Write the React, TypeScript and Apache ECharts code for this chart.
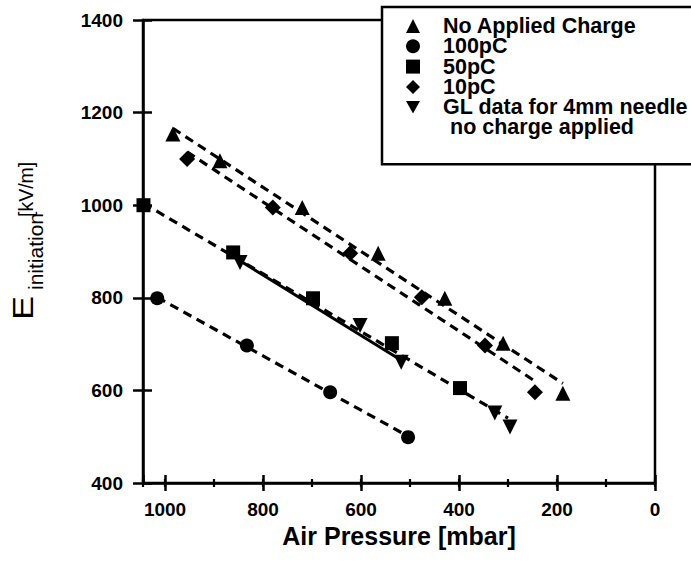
import React, { useEffect, useRef } from "react";
import * as echarts from "echarts";

// ---- data ----
const xTickValues = [0, 200, 400, 600, 800, 1000];
const yTickValues = [400, 600, 800, 1000, 1200, 1400];

const pressureNoCharge = [984, 888, 720, 565, 429, 310, 188];
const fieldNoCharge = [1154, 1096, 995, 896, 799, 702, 594];

const pressure100 = [1016, 833, 663, 504];
const field100 = [799, 697, 596, 499];

const pressure50 = [1044, 861, 698, 537, 398];
const field50 = [1000, 898, 799, 702, 605];

const pressure10 = [955, 780, 622, 476, 347, 245];
const field10 = [1100, 995, 896, 801, 697, 596];

const pressureGL = [847, 602, 518, 327, 296];
const fieldGL = [876, 740, 661, 551, 521];

// fitted trend lines (end points)
const fitNoChargeX = [984, 188];
const fitNoChargeY = [1166, 615];
const fit100X = [1016, 504];
const fit100Y = [801, 501];
const fit50X = [1044, 300];
const fit50Y = [1004, 540];
const fit10X = [955, 245];
const fit10Y = [1115, 620];
const fitGLX = [847, 518];
const fitGLY = [880, 665];

const seriesNames = [
  "No Applied Charge",
  "100pC",
  "50pC",
  "10pC",
  "GL data for 4mm needle",
];

const zip = (xs: number[], ys: number[]) => xs.map((x, i) => [x, ys[i]]);

const FONT = "'Liberation Sans', Arial, Helvetica, sans-serif";
const DOWN_TRIANGLE = "path://M0,0L10,0L5,9Z";

export default function App() {
  const ref = useRef<HTMLDivElement>(null);

  useEffect(() => {
    if (!ref.current) return;
    const chart = echarts.init(ref.current, undefined, { renderer: "svg" });

    const gridRect = { left: 143, top: 20, width: 512, height: 463 };

    const baseX = {
      type: "value" as const,
      min: 0,
      max: 1045,
      inverse: true,
      position: "bottom" as const,
      splitLine: { show: false },
    };
    const baseY = {
      type: "value" as const,
      min: 400,
      max: 1400,
      interval: 200,
      position: "left" as const,
      splitLine: { show: false },
    };
    const tickStyle = { color: "#000", width: 2.5 };
    const minorTickStyle = { color: "#000", width: 2.2 };

    const scatterStyle = { color: "#000", opacity: 1 };
    const dashed = { color: "#000", width: 3.2, type: [9, 6] as number[] };

    const fitLine = (xs: number[], ys: number[], solid = false) => ({
      type: "line" as const,
      data: zip(xs, ys),
      symbol: "none",
      showSymbol: false,
      silent: true,
      z: 1,
      lineStyle: solid ? { color: "#000", width: 3, type: "solid" as const } : dashed,
    });

    const option: any = {
      animation: false,
      backgroundColor: "#fff",
      grid: [
        {
          ...gridRect,
          show: true,
          borderColor: "#000",
          borderWidth: 2.5,
          backgroundColor: "transparent",
        },
        { ...gridRect, show: false },
        { ...gridRect, show: false },
        { ...gridRect, show: false },
      ],
      xAxis: [
        {
          ...baseX,
          gridIndex: 0,
          interval: 200,
          axisLine: { show: true, onZero: false, lineStyle: { color: "#000", width: 2.5 } },
          axisTick: { show: true, inside: false, length: 8, lineStyle: tickStyle },
          axisLabel: {
            show: true,
            margin: 17,
            color: "#000",
            fontSize: 19,
            fontWeight: "bold",
            fontFamily: FONT,
            showMaxLabel: false,
            formatter: (v: number) => (xTickValues.includes(v) ? String(v) : ""),
          },
          name: "Air Pressure [mbar]",
          nameLocation: "middle",
          nameGap: 40,
          nameTextStyle: { color: "#000", fontSize: 25, fontWeight: "bold", fontFamily: FONT },
        },
        {
          ...baseX,
          gridIndex: 1,
          interval: 200,
          axisLine: { show: false, onZero: false },
          axisTick: { show: true, inside: true, length: 8, lineStyle: tickStyle },
          axisLabel: { show: false },
        },
        {
          ...baseX,
          gridIndex: 2,
          interval: 100,
          axisLine: { show: false, onZero: false },
          axisTick: { show: true, inside: false, length: 4, lineStyle: minorTickStyle },
          axisLabel: { show: false },
        },
        {
          ...baseX,
          gridIndex: 3,
          interval: 100,
          axisLine: { show: false, onZero: false },
          axisTick: { show: true, inside: true, length: 4, lineStyle: minorTickStyle },
          axisLabel: { show: false },
        },
      ],
      yAxis: [
        {
          ...baseY,
          gridIndex: 0,
          axisLine: { show: true, onZero: false, lineStyle: { color: "#000", width: 2.5 } },
          axisTick: { show: true, inside: false, length: 10, lineStyle: tickStyle },
          axisLabel: {
            show: true,
            margin: 20,
            color: "#000",
            fontSize: 19,
            fontWeight: "bold",
            fontFamily: FONT,
            formatter: (v: number) => (yTickValues.includes(v) ? String(v) : ""),
          },
        },
        {
          ...baseY,
          gridIndex: 1,
          axisLine: { show: false, onZero: false },
          axisTick: { show: true, inside: true, length: 9, lineStyle: tickStyle },
          axisLabel: { show: false },
        },
        { ...baseY, gridIndex: 2, show: false, axisLine: { onZero: false } },
        { ...baseY, gridIndex: 3, show: false, axisLine: { onZero: false } },
      ],
      legend: {
        data: seriesNames,
        orient: "vertical",
        left: 382,
        top: 7,
        padding: [8, 45, 46, 24],
        itemGap: -1.7,
        itemWidth: 14,
        itemHeight: 14,
        selectedMode: false,
        backgroundColor: "#fff",
        borderColor: "#000",
        borderWidth: 2.5,
        borderRadius: 0,
        z: 10,
        textStyle: {
          color: "#000",
          fontSize: 21.5,
          fontWeight: "bold",
          fontFamily: FONT,
          lineHeight: 20,
          padding: [0, 0, 0, 18],
        },
      },
      graphic: [
        {
          type: "text",
          x: 450,
          y: 127,
          z: 100,
          style: {
            text: "no charge applied",
            fill: "#000",
            font: `bold 21.5px ${FONT}`,
            align: "left",
            verticalAlign: "middle",
          },
        },
        {
          type: "group",
          x: 0,
          y: 320,
          rotation: Math.PI / 2,
          z: 100,
          children: [
            {
              type: "text",
              x: 0,
              y: 22.6,
              scaleX: 1.2,
              style: { text: "E", fill: "#000", font: `30px ${FONT}`, align: "left", verticalAlign: "middle" },
            },
            {
              type: "text",
              x: 30,
              y: 35.7,
              style: { text: "initiation", fill: "#000", font: `21px ${FONT}`, align: "left", verticalAlign: "middle" },
            },
            {
              type: "text",
              x: 103,
              y: 26,
              style: { text: "[kV/m]", fill: "#000", font: `19.5px ${FONT}`, align: "left", verticalAlign: "middle" },
            },
          ],
        },
      ],
      series: [
        {
          name: seriesNames[0],
          type: "scatter",
          data: zip(pressureNoCharge, fieldNoCharge),
          symbol: "triangle",
          symbolSize: 15,
          itemStyle: scatterStyle,
          clip: false,
          z: 3,
        },
        {
          name: seriesNames[1],
          type: "scatter",
          data: zip(pressure100, field100),
          symbol: "circle",
          symbolSize: 14,
          itemStyle: scatterStyle,
          clip: false,
          z: 3,
        },
        {
          name: seriesNames[2],
          type: "scatter",
          data: zip(pressure50, field50),
          symbol: "rect",
          symbolSize: 14,
          itemStyle: scatterStyle,
          clip: false,
          z: 3,
        },
        {
          name: seriesNames[3],
          type: "scatter",
          data: zip(pressure10, field10),
          symbol: "diamond",
          symbolSize: 16,
          itemStyle: scatterStyle,
          clip: false,
          z: 3,
        },
        {
          name: seriesNames[4],
          type: "scatter",
          data: zip(pressureGL, fieldGL),
          symbol: DOWN_TRIANGLE,
          symbolSize: 15,
          itemStyle: scatterStyle,
          clip: false,
          z: 3,
        },
        fitLine(fitNoChargeX, fitNoChargeY),
        fitLine(fit100X, fit100Y),
        fitLine(fit50X, fit50Y),
        fitLine(fit10X, fit10Y),
        fitLine(fitGLX, fitGLY, true),
      ],
    };

    chart.setOption(option);
    return () => chart.dispose();
  }, []);

  return <div ref={ref} style={{ width: 691, height: 565, position: "absolute", left: 0, top: 0 }} />;
}
